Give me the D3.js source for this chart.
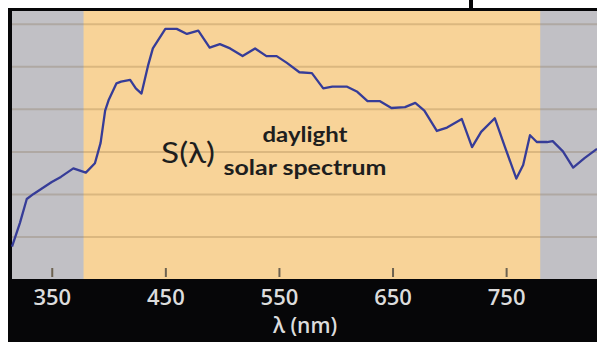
<!DOCTYPE html>
<html>
<head>
<meta charset="utf-8">
<script src="https://cdn.jsdelivr.net/npm/d3@7"></script>
<style>
  html, body { margin: 0; padding: 0; background: #fff; }
  svg { display: block; }
</style>
</head>
<body>
<div id="chart"></div>
<script>
"use strict";

// wavelength (nm) and relative spectral irradiance
var wavelength = [315, 322, 328, 334, 341, 350, 358, 369, 380, 388, 393, 397, 400, 407, 411, 419, 424, 429, 435, 439,
  450, 460, 469, 479, 489, 498, 507, 518, 529, 539, 548, 557, 568, 579, 589, 597, 610, 619, 628, 639,
  649, 661, 670, 678, 689, 698, 711, 720, 728, 740, 749, 759, 765, 771, 777, 786, 791, 800, 809, 819, 830];
var irradiance = [0.19, 0.33, 0.47, 0.50, 0.53, 0.57, 0.60, 0.65, 0.625, 0.68, 0.80, 0.99, 1.05, 1.15, 1.16, 1.17, 1.12, 1.09, 1.26, 1.355,
  1.47, 1.47, 1.44, 1.46, 1.36, 1.38, 1.355, 1.31, 1.355, 1.31, 1.31, 1.27, 1.215, 1.21, 1.12, 1.13, 1.13, 1.10, 1.045, 1.045,
  1.005, 1.01, 1.035, 0.99, 0.87, 0.89, 0.94, 0.775, 0.865, 0.945, 0.775, 0.59, 0.67, 0.845, 0.805, 0.805, 0.81, 0.75, 0.655, 0.71, 0.765];

var xTicks = [350, 450, 550, 650, 750];
var yGrid = [0.25, 0.5, 0.75, 1.0, 1.25, 1.5];
var visibleBand = [378, 780];

var W = 597, H = 342;
var margin = {top: 11, right: 0, bottom: 63, left: 12};
var width = W - margin.left - margin.right,
    height = H - margin.top - margin.bottom;

var svg = d3.select("#chart").append("svg")
  .attr("width", W)
  .attr("height", H);

// black frame: top rule, left rule, bottom band
svg.append("rect").attr("x", 8).attr("y", 8).attr("width", W - 8).attr("height", H - 8).attr("fill", "#060608");
svg.append("rect").attr("x", 469).attr("y", 0).attr("width", 4).attr("height", 9).attr("fill", "#060608");

var g = svg.append("g")
  .attr("transform", "translate(" + margin.left + "," + margin.top + ")");

var x = d3.scaleLinear().domain([315, 830]).range([0, width]);
var y = d3.scaleLinear().domain([0, 1.575]).range([height, 0]);

// backgrounds: grey outside visible range, orange inside
g.append("rect").attr("x", 0).attr("y", 0).attr("width", width).attr("height", height).attr("fill", "#c1c0c5");
g.append("rect")
  .attr("x", x(visibleBand[0])).attr("y", 0)
  .attr("width", x(visibleBand[1]) - x(visibleBand[0])).attr("height", height)
  .attr("fill", "#f8d398");

// horizontal grid
g.append("g")
  .call(d3.axisLeft(y).tickValues(yGrid).tickSize(-width).tickFormat(""))
  .call(function(s) { s.select(".domain").remove(); })
  .selectAll("line")
    .attr("stroke", "#6b4a20")
    .attr("stroke-opacity", 0.2)
    .attr("stroke-width", 2);

// x axis: short inward ticks and labels on the black band
var xAxis = g.append("g")
  .attr("transform", "translate(0," + (height - 2) + ")")
  .call(d3.axisBottom(x).tickValues(xTicks).tickSizeInner(-9).tickSizeOuter(0).tickPadding(12));
xAxis.select(".domain").remove();
xAxis.selectAll("line").attr("stroke", "#6d6250").attr("stroke-width", 2);
xAxis.selectAll("text")
  .attr("fill", "#dcdcdc")
  .style("font-family", "'Open Sans', sans-serif")
  .style("font-size", "22px")
  .style("font-weight", "600");

svg.append("text")
  .attr("x", 305).attr("y", 333)
  .attr("text-anchor", "middle")
  .attr("fill", "#dcdcdc")
  .style("font-family", "'Open Sans', sans-serif")
  .style("font-size", "21px")
  .style("font-weight", "600")
  .text("λ (nm)");

// spectrum line
var points = wavelength.map(function(w, i) { return [w, irradiance[i]]; });
var line = d3.line()
  .x(function(d) { return x(d[0]); })
  .y(function(d) { return y(d[1]); });

g.append("path")
  .datum(points)
  .attr("fill", "none")
  .attr("stroke", "#363c98")
  .attr("stroke-width", 2.3)
  .attr("stroke-linejoin", "round")
  .attr("d", line);

// labels
svg.append("text")
  .attr("x", 161).attr("y", 163)
  .attr("fill", "#1e1e1e")
  .style("font-family", "Lato, sans-serif")
  .style("font-size", "29px")
  .attr("textLength", 54)
  .attr("lengthAdjust", "spacingAndGlyphs")
  .text("S(λ)");

svg.append("text")
  .attr("x", 305).attr("y", 142)
  .attr("text-anchor", "middle")
  .attr("fill", "#1e1e1e")
  .style("font-family", "Lato, sans-serif")
  .style("font-size", "21px")
  .style("font-weight", "bold")
  .attr("textLength", 85)
  .attr("lengthAdjust", "spacingAndGlyphs")
  .text("daylight");

svg.append("text")
  .attr("x", 305).attr("y", 175)
  .attr("text-anchor", "middle")
  .attr("fill", "#1e1e1e")
  .style("font-family", "Lato, sans-serif")
  .style("font-size", "21px")
  .style("font-weight", "bold")
  .attr("textLength", 163)
  .attr("lengthAdjust", "spacingAndGlyphs")
  .text("solar spectrum");
</script>
</body>
</html>
